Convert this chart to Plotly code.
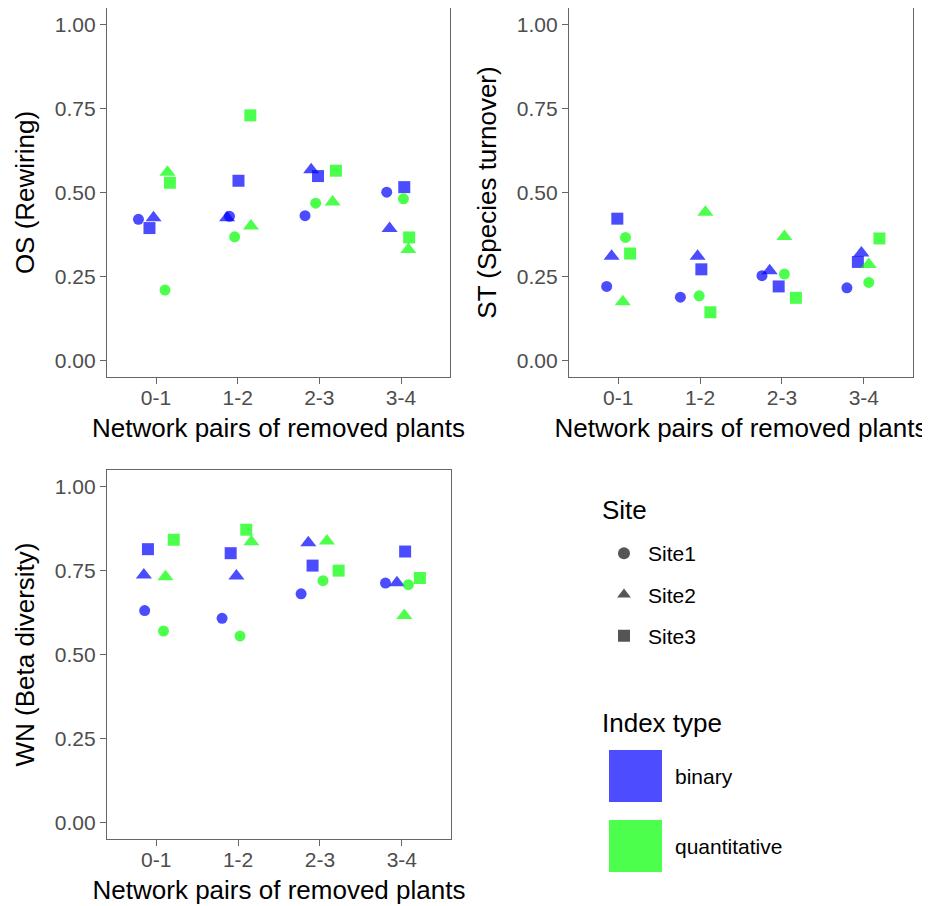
import plotly.graph_objects as go

# ---------------- data ----------------
categories = ["0-1", "1-2", "2-3", "3-4"]
sites = ["Site1", "Site2", "Site3"]
index_types = ["binary", "quantitative"]

# OS (Rewiring)
os_binary = {
    "Site1": [0.420, 0.429, 0.431, 0.501],
    "Site2": [0.425, 0.425, 0.568, 0.393],
    "Site3": [0.394, 0.535, 0.549, 0.516],
}
os_quant = {
    "Site1": [0.209, 0.368, 0.468, 0.481],
    "Site2": [0.560, 0.400, 0.472, 0.330],
    "Site3": [0.529, 0.730, 0.565, 0.366],
}
# ST (Species turnover)
st_binary = {
    "Site1": [0.220, 0.188, 0.252, 0.216],
    "Site2": [0.310, 0.310, 0.267, 0.320],
    "Site3": [0.422, 0.271, 0.220, 0.293],
}
st_quant = {
    "Site1": [0.366, 0.192, 0.257, 0.232],
    "Site2": [0.174, 0.441, 0.369, 0.285],
    "Site3": [0.318, 0.143, 0.186, 0.363],
}
# WN (Beta diversity)
wn_binary = {
    "Site1": [0.631, 0.608, 0.681, 0.713],
    "Site2": [0.737, 0.734, 0.833, 0.714],
    "Site3": [0.814, 0.802, 0.765, 0.807],
}
wn_quant = {
    "Site1": [0.570, 0.555, 0.720, 0.708],
    "Site2": [0.732, 0.836, 0.838, 0.616],
    "Site3": [0.842, 0.872, 0.750, 0.728],
}

# horizontal jitter (category units)
os_jit_binary = {"Site1": [-0.215, -0.10, -0.175, -0.175],
                 "Site2": [-0.03, -0.13, -0.10, -0.14],
                 "Site3": [-0.08, 0.01, -0.016, 0.04]}
os_jit_quant = {"Site1": [0.11, -0.037, -0.045, 0.03],
                "Site2": [0.14, 0.163, 0.163, 0.09],
                "Site3": [0.17, 0.155, 0.203, 0.10]}
st_jit_binary = {"Site1": [-0.14, -0.24, -0.244, -0.207],
                 "Site2": [-0.08, -0.03, -0.15, -0.03],
                 "Site3": [-0.01, 0.016, -0.04, -0.073]}
st_jit_quant = {"Site1": [0.09, -0.01, 0.03, 0.06],
                "Site2": [0.057, 0.065, 0.03, 0.06],
                "Site3": [0.146, 0.126, 0.17, 0.19]}
wn_jit_binary = {"Site1": [-0.14, -0.195, -0.23, -0.20],
                 "Site2": [-0.15, -0.02, -0.142, -0.06],
                 "Site3": [-0.10, -0.09, -0.09, 0.04]}
wn_jit_quant = {"Site1": [0.09, 0.024, 0.037, 0.08],
                "Site2": [0.114, 0.163, 0.085, 0.03],
                "Site3": [0.215, 0.10, 0.228, 0.22]}

y_ticks = [0.0, 0.25, 0.5, 0.75, 1.0]
y_titles = ["OS (Rewiring)", "ST (Species turnover)", "WN (Beta diversity)"]
x_title = "Network pairs of removed plants"

# ---------------- styling ----------------
W, H = 930, 906          # browser window
OFF = 8                  # default page body margin
FW, FH = W - OFF, H - OFF
FONT = "Liberation Sans, Arial, sans-serif"
TICK_SIZE = 21
TITLE_SIZE = 26
colors = {"binary": "rgba(0,0,255,0.70)", "quantitative": "rgba(0,255,0,0.70)"}
legend_fill = {"binary": "#4d4dff", "quantitative": "#4dff4d"}
symbols = {"Site1": "circle", "Site2": "triangle-up", "Site3": "square"}
sizes = {"Site1": 11, "Site2": 14, "Site3": 12}


def xp(px):
    return min(1.0, max(0.0, (px - OFF) / FW))


def yp(py):
    return min(1.0, max(0.0, 1 - (py - OFF) / FH))


panels = [
    dict(xa="x", ya="y", xdom=[xp(107), xp(450)], ydom=[yp(377), yp(8)],
         data=(os_binary, os_quant), jit=(os_jit_binary, os_jit_quant)),
    dict(xa="x2", ya="y2", xdom=[xp(569), xp(913)], ydom=[yp(377), yp(8)],
         data=(st_binary, st_quant), jit=(st_jit_binary, st_jit_quant)),
    dict(xa="x3", ya="y3", xdom=[xp(107), xp(451)], ydom=[yp(839), yp(470)],
         data=(wn_binary, wn_quant), jit=(wn_jit_binary, wn_jit_quant)),
]

fig = go.Figure()
cat_pos = list(range(1, len(categories) + 1))

for p in panels:
    for it, vals, jit in zip(index_types, p["data"], p["jit"]):
        for s in sites:
            xs = [c + j for c, j in zip(cat_pos, jit[s])]
            fig.add_trace(go.Scatter(
                x=xs, y=vals[s], mode="markers", xaxis=p["xa"], yaxis=p["ya"],
                marker=dict(symbol=symbols[s], size=sizes[s], color=colors[it],
                            line=dict(width=0)),
                showlegend=False, name=f"{s} {it}", hoverinfo="x+y+name"))

# Site legend (shape key)
legend_sizes = {"Site1": 9, "Site2": 13, "Site3": 10}
for s in sites:
    fig.add_trace(go.Scatter(
        x=[None], y=[None], mode="markers", name=s, legendgroup=s,
        marker=dict(symbol=symbols[s], size=legend_sizes[s], color="#555555"),
        showlegend=True, xaxis="x", yaxis="y"))

axis_common = dict(showgrid=False, zeroline=False, showline=True, mirror=True,
                   linecolor="#666666", linewidth=1.2, ticks="outside", ticklen=6,
                   tickwidth=1.2, tickcolor="#666666",
                   tickfont=dict(family=FONT, size=TICK_SIZE, color="#4d4d4d"))

layout = dict(width=FW, height=FH, margin=dict(l=0, r=0, t=0, b=0),
              plot_bgcolor="white", paper_bgcolor="white",
              font=dict(family=FONT, color="black"))

for k, p in enumerate(panels):
    sx = "" if k == 0 else str(k + 1)
    layout["xaxis" + sx] = dict(
        axis_common, domain=p["xdom"], anchor=p["ya"], range=[0.4, 4.6],
        tickvals=cat_pos, ticktext=categories, ticklabelstandoff=-4,
        title=dict(text=x_title, font=dict(family=FONT, size=TITLE_SIZE, color="black"),
                   standoff=10))
    layout["yaxis" + sx] = dict(
        axis_common, domain=p["ydom"], anchor=p["xa"], range=[-0.05, 1.05],
        tickvals=y_ticks, ticktext=[f"{v:.2f}" for v in y_ticks],
        title=dict(text=y_titles[k], font=dict(family=FONT, size=TITLE_SIZE, color="black"),
                   standoff=12))

layout["legend"] = dict(
    x=xp(600), y=yp(533), xanchor="left", yanchor="top",
    font=dict(family=FONT, size=TICK_SIZE, color="black"),
    tracegroupgap=11, itemsizing="constant", itemwidth=38,
    bgcolor="rgba(0,0,0,0)")

fig.update_layout(**layout)

# legend titles
fig.add_annotation(x=xp(600), y=yp(510), xref="paper", yref="paper",
                   text="Site", showarrow=False, xanchor="left", yanchor="middle",
                   font=dict(family=FONT, size=TITLE_SIZE, color="black"))
fig.add_annotation(x=xp(600), y=yp(723), xref="paper", yref="paper",
                   text="Index type", showarrow=False, xanchor="left", yanchor="middle",
                   font=dict(family=FONT, size=TITLE_SIZE, color="black"))

# Index type legend (fill key)
key_tops = [750, 820]
for it, top in zip(index_types, key_tops):
    fig.add_shape(type="rect", xref="paper", yref="paper",
                  x0=xp(609), x1=xp(662), y0=yp(top + 52), y1=yp(top),
                  fillcolor=legend_fill[it], line=dict(width=0))
    fig.add_annotation(x=xp(673), y=yp(top + 26), xref="paper", yref="paper",
                       text=it, showarrow=False, xanchor="left", yanchor="middle",
                       font=dict(family=FONT, size=TICK_SIZE, color="black"))

fig.write_html("out.html")
